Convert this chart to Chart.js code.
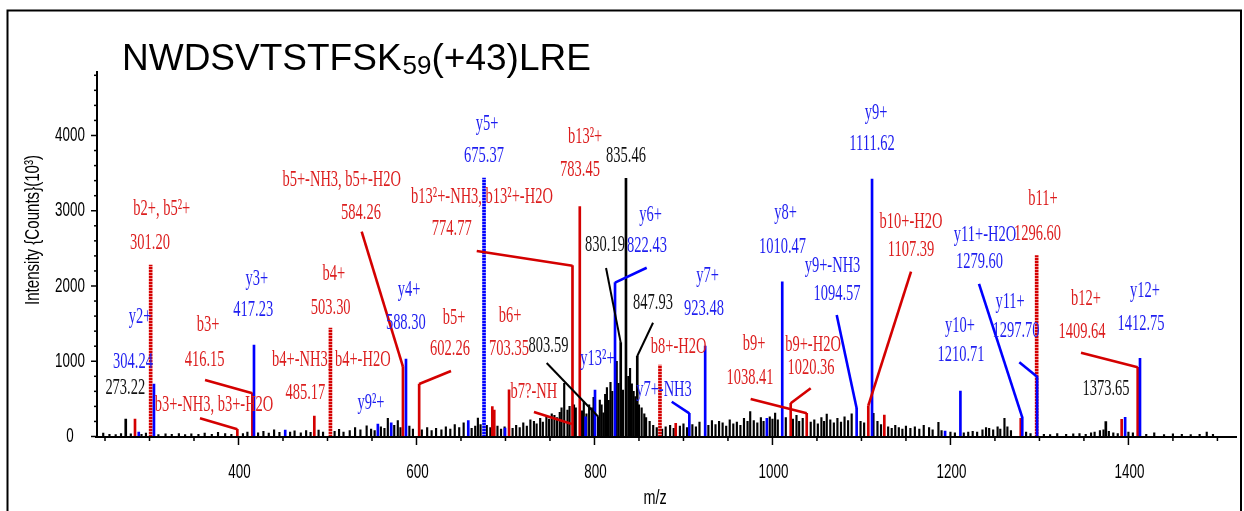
<!DOCTYPE html>
<html><head><meta charset="utf-8">
<script src="https://cdn.jsdelivr.net/npm/chart.js@4.4.1/dist/chart.umd.min.js"></script>
<style>html,body{margin:0;padding:0;background:#fff;overflow:hidden}canvas{display:block}</style>
</head><body>
<canvas id="c" width="1244" height="511"></canvas>
<script>
// ---- axis ticks ----
const xTicks = [400, 600, 800, 1000, 1200, 1400];
const yTicks = [0, 1000, 2000, 3000, 4000];

// ---- annotated peaks (m/z, intensity in counts x10^3) ----
const blackMz  = [273.3, 804.3, 829.5, 835.4, 848.1, 1374.6];
const blackInt = [233, 263, 1247, 3431, 1070, 197];

const redMz  = [283.7, 398.7, 415.6, 485.2, 584.8, 603.0, 685.2, 687.4, 704.0, 775.3, 783.5, 891.3, 1020.5, 1038.5, 1107.7, 1125.7, 1279.0, 1392.4, 1410.4];
const redInt = [233, 96, 575, 272, 928, 698, 396, 352, 620, 2270, 3054, 175, 441, 308, 409, 286, 242, 228, 920];

const redDotMz  = [301.3, 503.3, 873.6, 1296.9];
const redDotInt = [2279, 1442, 950, 2403];

const blueMz  = [287.9, 305.0, 417.4, 452.5, 556.6, 571.6, 588.2, 658.2, 699.5, 790.0, 800.6, 823.1, 906.6, 924.4, 993.7, 1011.0, 1094.6, 1111.9, 1194.0, 1211.2, 1280.7, 1297.4, 1396.3, 1413.0];
const blueInt = [60, 698, 1216, 86, 166, 183, 1030, 210, 113, 263, 618, 2044, 308, 1203, 242, 2057, 375, 3422, 73, 605, 255, 795, 255, 1039];

const blueDotMz  = [675.9];
const blueDotInt = [3435];

// ---- background (unannotated) peaks ----
const noiseMz = [
 248,255,262,268,279,291,296,310,318,325,
 333,340,347,355,362,370,377,385,392,405,
 410,422,428,434,440,446,458,463,470,476,
 481,490,495,508,513,518,525,531,537,544,
 549,553,560,564,567.8,575,579,582,592,596,
 606,612,617,622,628,633,638,643,648,653,
 662,666,669,672,679,683,691,695,699,708,
 712,716,720,724,728,732,735,739,742,746,
 749,752,755,758,761,763,766,769.7,772,777,
 779,786,788,791,794,797,799,806,808,810,
 812,814,816,818,820,825,827,832,838,840,
 842,844,846,850,853,856,858,862,866,870,
 876,880,885,889,896,900,904,910,914,918,
 928,932,936,940,944,948,952,956,960,964,
 968,972,975,979,983,987,990,997,1000,1003,
 1006,1015,1023,1027,1030,1034,1043,1047,1051,1055,
 1058,1061,1065,1069,1073,1077,1081,1085,1089,1099,
 1103,1113.5,1118,1122,1130,1134,1138,1142,1146,1150,
 1155,1160,1165,1170,1176,1180,1186.5,1190,1200,1205,
 1215,1220,1225,1230,1236,1240,1243.5,1248,1253,1256,
 1260.7,1264,1268,1285,1290,1305,1312,1320,1330,1338,
 1345,1352,1358,1362,1368,1372,1378,1383,1388,1400,
 1405,1420,1429,1440,1450,1460,1470,1480,1488,1495
];
const noiseInt = [
 45,30,25,40,35,30,45,25,35,30,
 40,25,35,30,45,30,55,40,30,40,
 60,50,70,45,90,55,60,75,50,80,
 55,85,60,70,95,60,80,120,90,143,
 100,80,130,110,242,150,210,120,140,100,
 90,120,80,110,90,130,100,160,120,180,
 110,140,246,160,150,120,140,100,130,110,
 150,120,180,140,220,200,170,240,190,260,
 230,300,280,250,320,380,707,352,400,420,
 380,340,462,300,420,380,520,485,420,316,
 560,650,480,720,600,1000,707,618,800,906,
 700,600,529,420,380,300,250,200,150,120,
 100,130,150,110,140,170,120,160,130,190,
 150,210,160,200,180,140,220,170,190,150,
 240,200,330,210,180,250,200,260,230,312,
 220,250,230,280,200,240,190,220,170,250,
 200,299,220,180,240,190,260,210,300,200,
 180,308,200,160,130,110,150,120,100,140,
 110,130,100,150,120,90,188,80,60,50,
 50,60,70,60,90,120,109,90,130,100,
 242,130,80,60,40,30,25,40,30,35,
 40,30,50,60,80,90,70,50,40,60,
 50,30,50,25,35,30,25,30,60,30
];

// ---- peak annotations: [colour, text, label m/z, label intensity] ----
const labels = [
 ['r','b2+, b5²+',313.7,2943], ['r','301.20',300.6,2492],
 ['b','y2+',289.3,1508], ['b','304.24',281.5,910], ['k','273.22',272.8,565],
 ['r','b3+',365.7,1402], ['r','416.15',362,937],
 ['r','b3+-NH3, b3+-H2O',372.5,339],
 ['b','y3+',420.5,2013], ['b','417.23',416.6,1601],
 ['r','b4+',507.1,2080], ['r','503.30',503.6,1628],
 ['r','b4+-NH3, b4+-H2O',504.3,937], ['r','485.17',475.1,498],
 ['b','y9²+',548.9,365],
 ['r','b5+-NH3, b5+-H2O',516,3329], ['r','584.26',537.7,2890],
 ['b','y4+',591.6,1867], ['b','588.30',588,1429],
 ['r','b5+',642.2,1495], ['r','602.26',637.7,1083],
 ['b','y5+',679.2,4073], ['b','675.37',675.9,3648],
 ['r','b13²+-NH3, b13²+-H2O',673.6,3103], ['r','774.77',639.6,2678],
 ['r','b13²+',789.4,3900], ['r','783.45',783.7,3462],
 ['k','835.46',835.4,3648], ['k','830.19',811.8,2465],
 ['b','y6+',863,2864], ['b','822.43',859,2452],
 ['k','847.93',865.8,1694],
 ['b','y7+',927,2053], ['b','923.48',923.1,1615],
 ['r','b6+',705.1,1522], ['r','703.35',704,1083],
 ['k','803.59',748.3,1123], ['r','b7?-NH',732,512],
 ['b','y13²+',803.4,950], ['r','b8+-H2O',894.6,1110],
 ['b','y7+-NH3',878.1,538],
 ['r','b9+',979.3,1150], ['r','1038.41',974.8,698],
 ['r','b9+-H2O',1045.6,1136], ['r','1020.36',1043.3,831],
 ['b','y8+',1014.7,2890], ['b','1010.47',1011.3,2439],
 ['b','y9+-NH3',1067.5,2186], ['b','1094.57',1072.5,1814],
 ['b','y9+',1116.4,4219], ['b','1111.62',1111.9,3807],
 ['r','b10+-H2O',1155.7,2771], ['r','1107.39',1155.7,2399],
 ['b','y10+',1210.7,1389], ['b','1210.71',1211.8,1003],
 ['b','y11+-H2O',1238.8,2598], ['b','1279.60',1232.7,2239],
 ['r','b11+',1304,3076], ['r','1296.60',1297.8,2611],
 ['b','y11+',1267,1708], ['b','1297.70',1273.7,1322],
 ['r','b12+',1352.3,1748], ['r','1409.64',1347.8,1309],
 ['b','y12+',1418.6,1854], ['b','1412.75',1414.1,1415],
 ['k','1373.65',1374.8,551]
];

// ---- leader lines: [colour, from m/z, from int, to m/z, to int] ----
const leaders = [
 ['r',362.4,751,415.6,575], ['r',356.7,242,398.7,96],
 ['r',538.4,2722,584.8,928], ['r',638.8,870,603.0,698],
 ['r',667.7,2465,775.3,2270], ['k',813,2239,829.5,1247],
 ['b',858.7,2243,823.1,2044], ['k',865.8,1512,848.1,1070],
 ['k',746.3,977,804.3,263], ['r',732,326,774.6,166],
 ['b',886.8,462,906.6,308], ['r',975.5,498,1038.5,308],
 ['r',1043,641,1020.5,441], ['b',1072.2,1615,1094.6,375],
 ['r',1155.7,2190,1107.7,409], ['b',1232.1,2027,1280.7,255],
 ['b',1277.4,986,1297.4,795], ['r',1346.7,1114,1410.4,920]
];

const LINE = {r:'#d40000', b:'#0000ff', k:'#000000'};
const TEXT = {r:'#dc1e1e', b:'#1e1ef0', k:'#111111'};

const ctx = document.getElementById('c').getContext('2d');
function stripes(col, light){
  const c = document.createElement('canvas'); c.width = 4; c.height = 3;
  const g = c.getContext('2d');
  g.fillStyle = col; g.fillRect(0,0,4,2);
  g.fillStyle = light; g.fillRect(0,2,4,1);
  return ctx.createPattern(c, 'repeat');
}
const pts = (m, v) => m.map((x, i) => ({x: x, y: v[i]}));

function condensedText(g, txt, x, y, font, color, sx, align){
  g.save();
  g.font = font; g.fillStyle = color; g.textAlign = align; g.textBaseline = 'alphabetic';
  g.translate(x, y); g.scale(sx, 1);
  g.fillText(txt, 0, 0);
  g.restore();
}

const overlay = {
  id: 'overlay',
  afterDatasetsDraw(chart){
    const g = chart.ctx, xs = chart.scales.x, ys = chart.scales.y, ca = chart.chartArea;
    const X = v => xs.getPixelForValue(v), Y = v => ys.getPixelForValue(v);
    g.save();
    // leader lines
    leaders.forEach(l => {
      g.strokeStyle = LINE[l[0]]; g.lineWidth = l[0] === 'k' ? 2 : 2.6;
      g.beginPath(); g.moveTo(X(l[1]), Y(l[2])); g.lineTo(X(l[3]), Y(l[4])); g.stroke();
    });
    // labels
    labels.forEach(l => condensedText(g, l[1], X(l[2]), Y(l[3]), '23px "Liberation Serif", "Times New Roman", serif', TEXT[l[0]], 0.63, 'center'));
    // axes
    g.strokeStyle = '#000'; g.lineWidth = 2;
    const y0 = Y(0) + 0.5;
    g.beginPath(); g.moveTo(ca.left, ca.top); g.lineTo(ca.left, y0 + 1); g.stroke();
    g.beginPath(); g.moveTo(ca.left - 2, y0); g.lineTo(ca.right, y0); g.stroke();
    g.lineWidth = 1.5;
    for (let v = 0; v <= ys.max; v += 200){
      const len = v % 1000 === 0 ? 6 : 3, yy = Y(v);
      g.beginPath(); g.moveTo(ca.left - len, yy); g.lineTo(ca.left, yy); g.stroke();
    }
    for (let v = 250; v <= xs.max; v += 50){
      const len = v % 200 === 0 ? 8 : 4, xx = X(v);
      g.beginPath(); g.moveTo(xx, y0); g.lineTo(xx, y0 + len); g.stroke();
    }
    const tickFont = '20px "Liberation Sans", Arial, sans-serif';
    yTicks.forEach(v => {
      g.save(); g.font = tickFont; g.fillStyle = '#000'; g.textAlign = 'center'; g.textBaseline = 'middle';
      g.translate(70, Y(v)); g.scale(0.67, 1); g.fillText(String(v), 0, 0); g.restore();
    });
    xTicks.forEach(v => condensedText(g, String(v), X(v) + 1, 478, tickFont, '#000', 0.67, 'center'));
    // axis titles
    condensedText(g, 'm/z', 655, 504, tickFont, '#000', 0.72, 'center');
    g.save();
    g.font = tickFont; g.fillStyle = '#000'; g.textAlign = 'center'; g.textBaseline = 'middle';
    const yt = 'Intensity {Counts}(10³)';
    const w = g.measureText(yt).width;
    g.translate(33, 230); g.rotate(-Math.PI / 2); g.scale(150 / w, 1);
    g.fillText(yt, 0, 0);
    g.restore();
    // title
    g.fillStyle = '#000'; g.textAlign = 'left'; g.textBaseline = 'alphabetic';
    g.font = '37px "Liberation Sans", Arial, sans-serif';
    let tx = 122;
    g.fillText('NWDSVTSTFSK', tx, 70); tx += g.measureText('NWDSVTSTFSK').width;
    g.font = '26px "Liberation Sans", Arial, sans-serif';
    g.fillText('59', tx + 1, 74); tx += g.measureText('59').width + 1;
    g.font = '37px "Liberation Sans", Arial, sans-serif';
    g.fillText('(+43)LRE', tx, 70);
    // frame
    g.lineWidth = 2; g.strokeStyle = '#000';
    g.strokeRect(7.5, 10.5, 1233.5, 540);
    g.restore();
  }
};

new Chart(ctx, {
  type: 'bar',
  data: {
    datasets: [
      {label: 'y ions (dotted)', data: pts(blueDotMz, blueDotInt), backgroundColor: stripes('#0000ff', '#8f8fff'), barThickness: 3, order: 0},
      {label: 'y ions', data: pts(blueMz, blueInt), backgroundColor: '#0000ff', barThickness: 2, order: 1},
      {label: 'b ions (dotted)', data: pts(redDotMz, redDotInt), backgroundColor: stripes('#d40000', '#f09090'), barThickness: 3, order: 2},
      {label: 'b ions', data: pts(redMz, redInt), backgroundColor: '#d40000', barThickness: 2, order: 3},
      {label: 'other', data: pts(blackMz, blackInt), backgroundColor: '#000', barThickness: 2, order: 4},
      {label: 'noise', data: pts(noiseMz, noiseInt), backgroundColor: '#000', barThickness: 1.5, order: 5}
    ]
  },
  options: {
    responsive: false, maintainAspectRatio: false, animation: false,
    datasets: {bar: {grouped: false, borderWidth: 0}},
    layout: {padding: {left: 97, right: 7, top: 71, bottom: 74.5}},
    scales: {
      x: {type: 'linear', min: 241, max: 1522, offset: false, display: false},
      y: {min: 0, max: 4857, display: false}
    },
    plugins: {legend: {display: false}, tooltip: {enabled: false}, title: {display: false}}
  },
  plugins: [overlay]
});
</script>
</body></html>
